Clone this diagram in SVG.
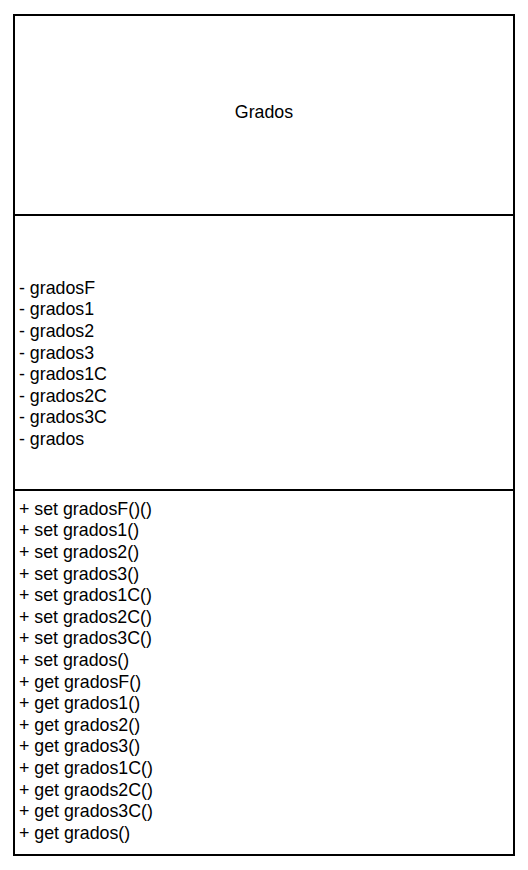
<svg xmlns="http://www.w3.org/2000/svg" width="528" height="870" viewBox="0 0 528 870">
<style>
.box{fill:#fff;stroke:#000;stroke-width:2}
.div{stroke:#000;stroke-width:2;fill:none}
text{font-family:"Liberation Sans",Arial,sans-serif;font-size:17.8px;fill:#000}
</style>
<rect width="528" height="870" fill="#fff"/>
<g id="class-Grados">
<rect class="box" x="14" y="15" width="500" height="840"/>
<line class="div" x1="14" y1="215" x2="514" y2="215"/>
<line class="div" x1="14" y1="490" x2="514" y2="490"/>
<text x="264" y="117.5" text-anchor="middle">Grados</text>
<g id="attributes">
<text x="19" y="293.8">- gradosF</text>
<text x="19" y="315.4">- grados1</text>
<text x="19" y="337">- grados2</text>
<text x="19" y="358.6">- grados3</text>
<text x="19" y="380.2">- grados1C</text>
<text x="19" y="401.8">- grados2C</text>
<text x="19" y="423.4">- grados3C</text>
<text x="19" y="445">- grados</text>
</g>
<g id="methods">
<text x="19" y="514.8">+ set gradosF()()</text>
<text x="19" y="536.4">+ set grados1()</text>
<text x="19" y="558">+ set grados2()</text>
<text x="19" y="579.6">+ set grados3()</text>
<text x="19" y="601.2">+ set grados1C()</text>
<text x="19" y="622.8">+ set grados2C()</text>
<text x="19" y="644.4">+ set grados3C()</text>
<text x="19" y="666">+ set grados()</text>
<text x="19" y="687.6">+ get gradosF()</text>
<text x="19" y="709.2">+ get grados1()</text>
<text x="19" y="730.8">+ get grados2()</text>
<text x="19" y="752.4">+ get grados3()</text>
<text x="19" y="774">+ get grados1C()</text>
<text x="19" y="795.6">+ get graods2C()</text>
<text x="19" y="817.2">+ get grados3C()</text>
<text x="19" y="838.8">+ get grados()</text>
</g>
</g>
<g id="connectors"></g>
</svg>
